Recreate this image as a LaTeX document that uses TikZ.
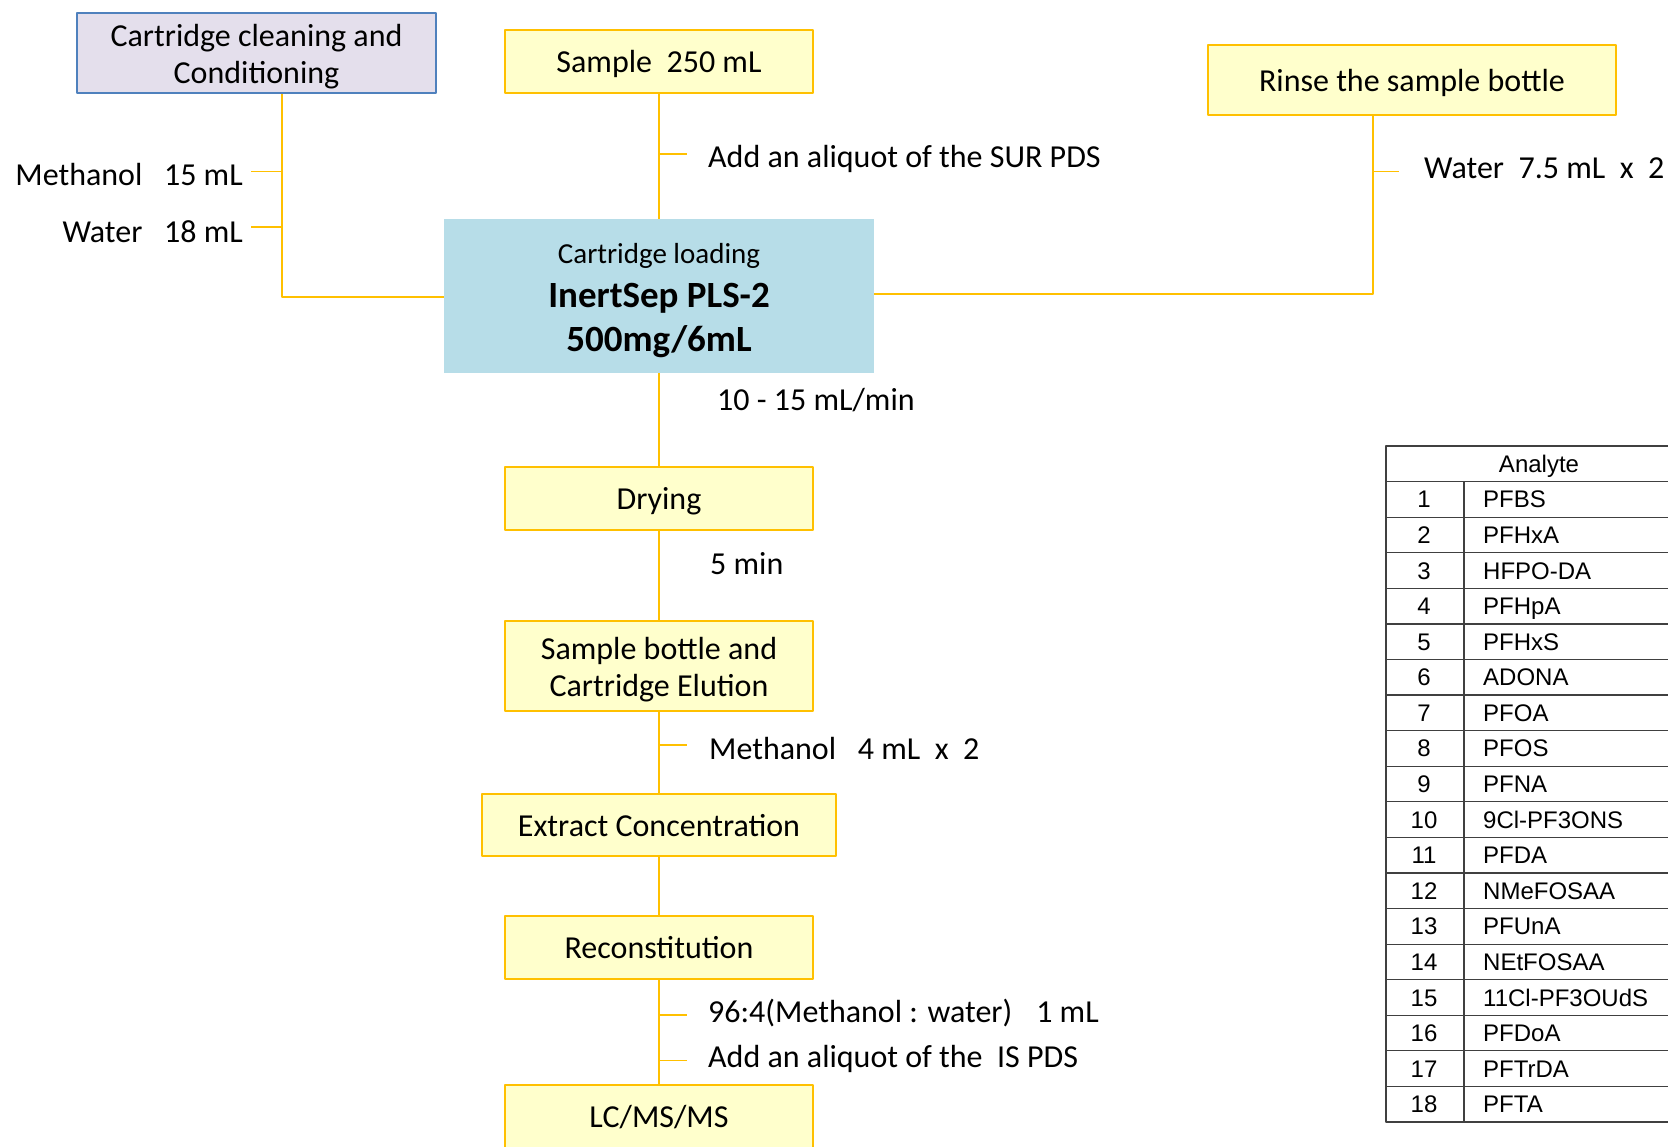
\documentclass[tikz,border=0pt]{standalone}
\usepackage{fontspec}
\setmainfont{Carlito}
\newfontfamily\tabfont{Liberation Sans}
\usetikzlibrary{positioning}
\definecolor{boxyellow}{HTML}{FFFFCC}
\definecolor{linegold}{HTML}{FFC000}
\definecolor{loadblue}{HTML}{B7DDE8}
\definecolor{condlilac}{HTML}{E4DFEC}
\definecolor{condblue}{HTML}{4F81BD}
\definecolor{tabgray}{HTML}{404040}
\begin{document}
\begin{tikzpicture}[x=1pt, y=-1pt, font=\fontsize{32}{37}\selectfont, line join=round,
	stepbox/.style={draw=linegold, line width=2.3pt, fill=boxyellow, align=center, inner sep=0pt, minimum width=308pt, minimum height=63pt, text height=26pt, text depth=4pt},
	twobox/.style={draw=linegold, line width=2.3pt, fill=boxyellow, align=center, inner sep=0pt, minimum width=308pt, minimum height=90pt},
	condbox/.style={draw=condblue, line width=2.3pt, fill=condlilac, align=center, inner sep=0pt, minimum width=359pt, minimum height=80pt},
	loadbox/.style={fill=loadblue, align=center, inner sep=0pt, minimum width=430pt, minimum height=154pt, font=\fontsize{37}{44}\selectfont},
	link/.style={draw=linegold, line width=1.8pt},
	note/.style={anchor=base west, inner sep=0pt},
	cell/.style={anchor=base, inner sep=0pt, font=\tabfont\fontsize{24}{29}\selectfont}]
				\def\rh{35.58}
				\useasboundingbox (0,0) rectangle (1668,1146);
				\clip (0,0) rectangle (1668,1146);
				\path
				(282,297) coordinate (LB)
				(1373,294) coordinate (RB)
				;
				
				% boxes
				\node[condbox] (cond) at (256.5,53) {\rule{0pt}{29.5pt}Cartridge cleaning and\\Conditioning};
				\node[stepbox] (sample) at (659,61.5) {Sample~~250 mL};
				\node[stepbox, minimum width=408pt, minimum height=70pt] (rinse) at (1412,80) {Rinse the sample bottle};
				\node[loadbox] (load) at (659,296) {\rule{0pt}{30pt}{\fontsize{29}{35}\selectfont Cartridge loading}\\\textbf{InertSep PLS-2}\\\textbf{500mg/6mL}};
				\node[stepbox] (dry) at (659,498.5) {Drying};
				\node[twobox] (elute) at (659,666) {\rule{0pt}{29pt}Sample bottle and\\Cartridge Elution};
				\node[stepbox, minimum width=354pt, minimum height=62pt] (conc) at (659,825) {Extract Concentration};
				\node[stepbox] (recon) at (659,947.5) {Reconstitution};
				\node[stepbox] (lcms) at (659,1116.5) {LC/MS/MS};
				
				% main column
				\draw[link] (sample) -- (load);
				\draw[link] (load) -- (dry);
				\draw[link] (dry) -- (elute);
				\draw[link] (elute) -- (conc);
				\draw[link] (conc) -- (recon);
				\draw[link] (recon) -- (lcms);
				
				% side branches
				\draw[link] (cond.south -| LB) -- (LB) -- (LB -| load.west);
				\draw[link] (load.east |- RB) -- (RB) -- (RB |- rinse.south);
				
				% ticks
				\draw[link] (659,154) -- (687,154);
				\draw[link] (283,171.5) -- (251,171.5);
				\draw[link] (283,227) -- (251,227);
				\draw[link] (1373,171.5) -- (1399,171.5);
				\draw[link] (659,745) -- (687,745);
				\draw[link] (659,1015) -- (687,1015);
				\draw[link] (659,1060.5) -- (687,1060.5);
				
				% labels
				\node[note] (surlbl) at (708,167) {Add an aliquot of the SUR PDS};
				\node[note, anchor=base east] (meohlbl) at (243,185) {Methanol~~~15 mL};
				\node[note, anchor=base east] (waterlbl) at (243,242) {Water~~~18 mL};
				\node[note] (rinselbl) at (1424,178) {Water~~7.5 mL~~x~~2};
				\node[note] (flowlbl) at (717,410) {10 - 15 mL/min};
				\node[note] (drylbl) at (710,574) {5 min};
				\node[note] (elulbl) at (709,759) {Methanol~~~4 mL~~x~~2};
				\node[note] (reclbl) at (708,1022) {96:4(Methanol : water)\hspace{24pt}1 mL};
				\node[note] (islbl) at (708,1067) {Add an aliquot of the~~IS PDS};
				
				% analyte table
				\draw[tabgray, line width=1.2pt] (1386,446) rectangle (1700,446+19*\rh);
				\foreach \k in {1,...,18}
				\draw[tabgray, line width=1.2pt] (1386,446+\k*\rh) -- (1700,446+\k*\rh);
				\draw[tabgray, line width=1.2pt] (1464,446+\rh) -- (1464,446+19*\rh);
				\node[cell] (head) at (1539,446+0.5*\rh+9) {Analyte};
				\foreach \nm [count=\i] in {PFBS,PFHxA,HFPO-DA,PFHpA,PFHxS,ADONA,PFOA,PFOS,PFNA,9Cl-PF3ONS,PFDA,NMeFOSAA,PFUnA,NEtFOSAA,11Cl-PF3OUdS,PFDoA,PFTrDA,PFTA}{
					\node[cell] (num\i) at (1424,446+\i*\rh+0.5*\rh+8.5) {\i};
					\node[cell, anchor=base west] (name\i) at (1483,446+\i*\rh+0.5*\rh+8.5) {\nm};
				}
		\end{tikzpicture}
\end{document}
